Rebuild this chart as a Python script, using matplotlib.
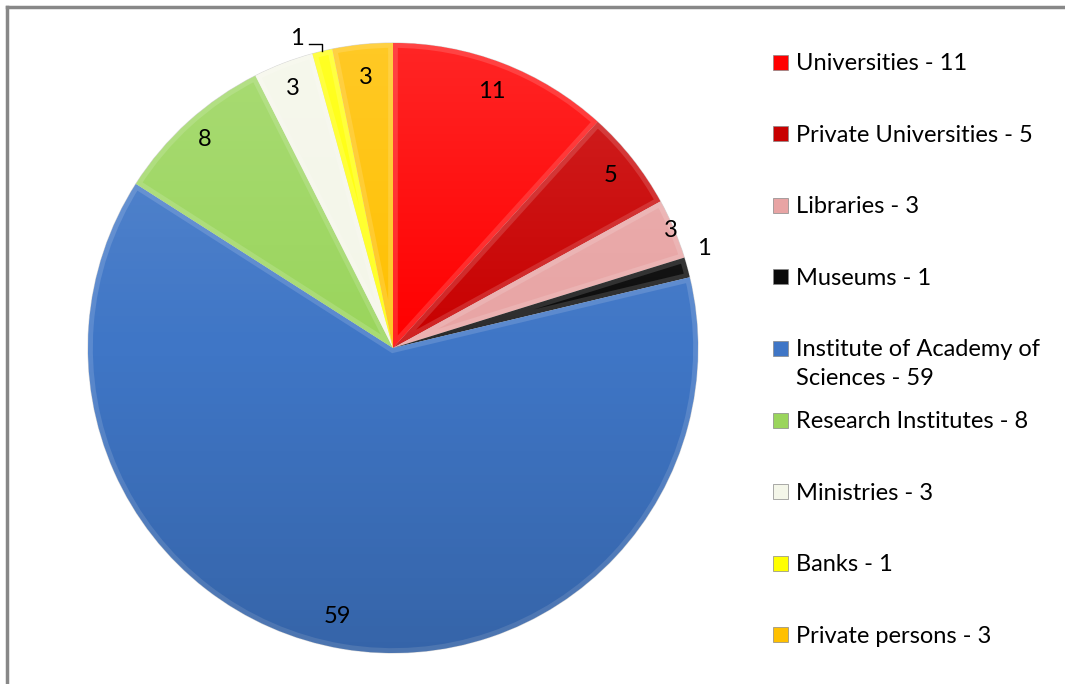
import numpy as np
import matplotlib
matplotlib.use("Agg")
import matplotlib.pyplot as plt
from matplotlib.patches import Rectangle, Wedge, Circle
from matplotlib.colors import to_rgb

# Data
categories = ["Universities", "Private Universities", "Libraries", "Museums",
              "Institute of Academy of\nSciences", "Research Institutes",
              "Ministries", "Banks", "Private persons"]
counts = [11, 5, 3, 1, 59, 8, 3, 1, 3]

# Colors for each slice
colors = ["#FF0000", "#C80000", "#E8A4A4", "#0A0A0A", "#3F76C6",
          "#9AD55C", "#F4F6E9", "#FFFF00", "#FFC000"]

W, H = 1065, 684
plt.rcParams["font.family"] = ["Lato", "DejaVu Sans"]
fig = plt.figure(figsize=(W / 100, H / 100), dpi=100)

# pie centre / radius in pixels
cx, cy, R = 393, 348, 305
ax = fig.add_axes([(cx - R) / W, (H - cy - R) / H, 2 * R / W, 2 * R / H])

wedges, _ = ax.pie(counts, colors=colors, startangle=90, counterclock=False,
                   radius=1, wedgeprops=dict(edgecolor="#d8d8d8", linewidth=0.8))
ax.set_xlim(-1, 1)
ax.set_ylim(-1, 1)
ax.axis("off")


def lighten(c, f):
    r = np.array(to_rgb(c))
    return tuple(r + (1 - r) * f)


# subtle bevel-like lighter rim on each slice
for w, c in zip(wedges, colors):
    rim = Wedge(w.center, w.r, w.theta1, w.theta2, facecolor="none",
                edgecolor=lighten(c, 0.14), linewidth=7, zorder=w.get_zorder())
    ax.add_patch(rim)
    rim.set_clip_path(w)

# soft top-light / bottom-dark shading over the pie
grad = np.linspace(1, 0, 256).reshape(-1, 1)
shade = np.zeros((256, 1, 4))
shade[..., :3] = np.where(grad[..., None] > 0.5, 1.0, 0.0)
shade[..., 3] = np.abs(grad - 0.5) * 0.3
im = ax.imshow(shade, extent=(-1, 1, -1, 1), aspect="auto", zorder=3,
               interpolation="bilinear")
im.set_clip_path(Circle((0, 0), 1, transform=ax.transData))
ax.set_xlim(-1, 1)
ax.set_ylim(-1, 1)

# labels
label_r = [0.9, 0.91, 0.99, 1.07, 0.9, 0.92, 0.91, None, 0.89]
for w, n, r in zip(wedges, counts, label_r):
    mid = np.deg2rad((w.theta1 + w.theta2) / 2)
    if r is None:
        # leader line label
        ex, ey = np.cos(mid), np.sin(mid)
        cy2 = ey + 7 / R
        ax.plot([ex, ex, ex - 13 / R], [ey, cy2, cy2], color="black", lw=1,
                clip_on=False, zorder=5)
        ax.text(ex - 25 / R, cy2 + 6 / R, str(n), ha="center", va="center",
                fontsize=17, zorder=5)
        continue
    if n == 1:
        mid = mid + np.deg2rad(2.5)
    if n == 59:
        mid = mid - np.deg2rad(2.2)
    ax.text(r * np.cos(mid), r * np.sin(mid), str(n), ha="center",
            va="center", fontsize=17, zorder=5)

# legend drawn by hand
y0, step = 62, 71.6
for i, (cat, n, c) in enumerate(zip(categories, counts, colors)):
    y = y0 + i * step
    fig.patches.append(Rectangle((773 / W, (H - y - 7.5) / H), 15 / W, 15 / H,
                                 transform=fig.transFigure, facecolor=c,
                                 edgecolor="#888888", linewidth=0.5))
    fig.text(796 / W, (H - y + 9) / H, f"{cat} - {n}", ha="left", va="top",
             fontsize=17, linespacing=1.45)

# frame (top and left edges visible)
fig.add_artist(plt.Line2D([7 / W, 1], [1 - 7 / H, 1 - 7 / H], color="#888888",
                          lw=2.5, transform=fig.transFigure))
fig.add_artist(plt.Line2D([7 / W, 7 / W], [0, 1 - 7 / H], color="#888888",
                          lw=2.5, transform=fig.transFigure))

fig.savefig("out.png", dpi=100)
